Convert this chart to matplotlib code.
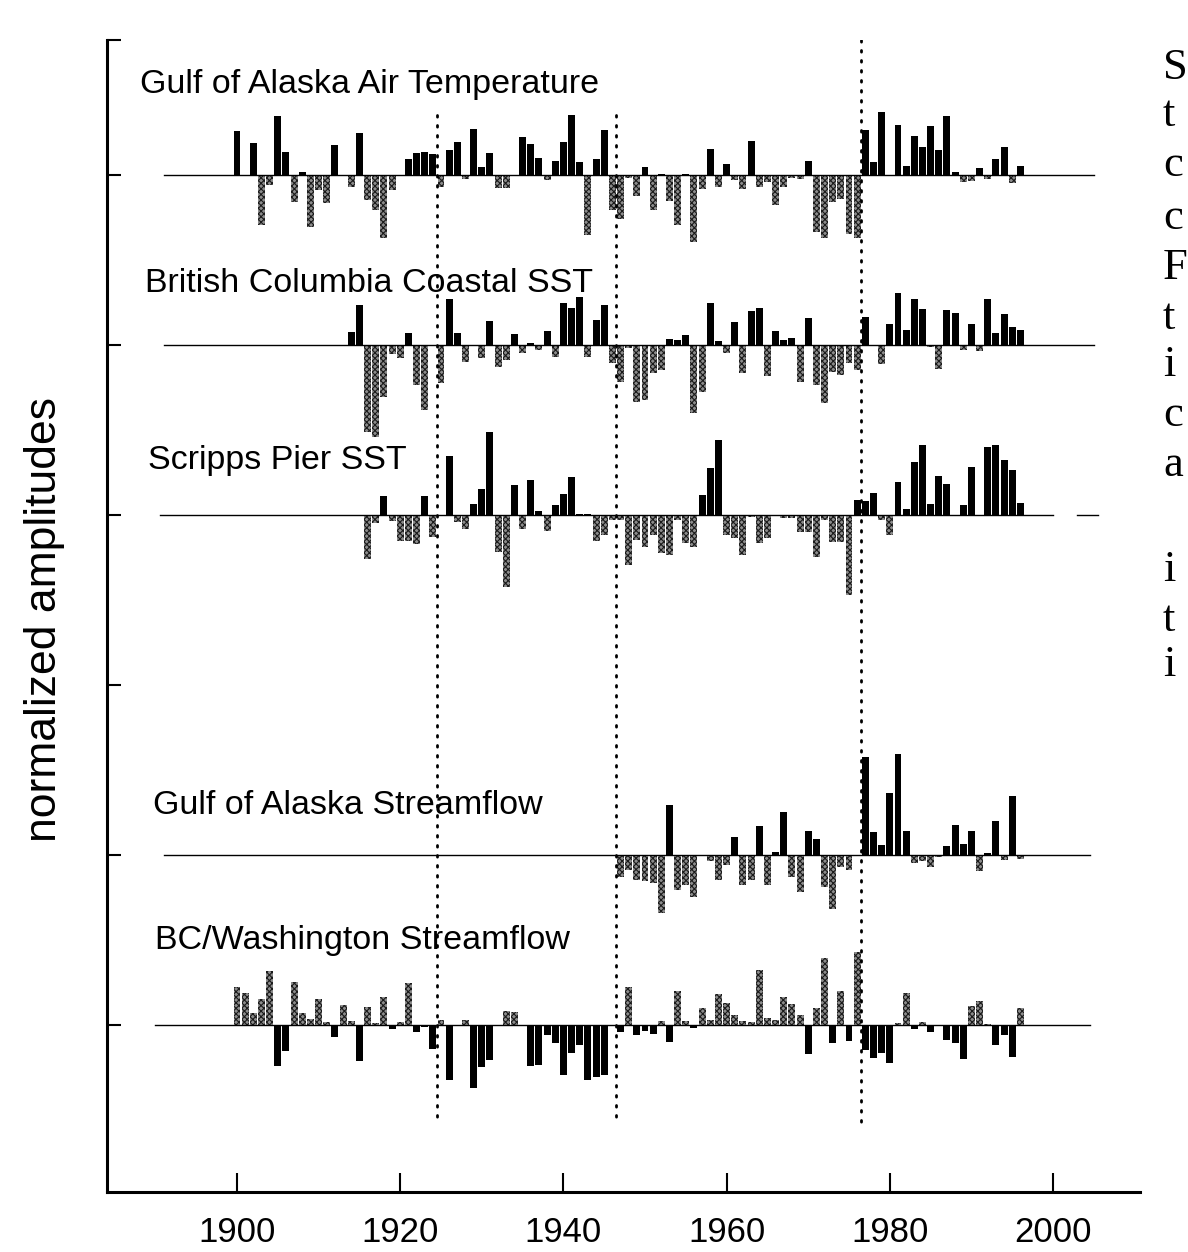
import numpy as np
import matplotlib
matplotlib.use("Agg")
import matplotlib.pyplot as plt

plt.rcParams['font.family'] = ['Liberation Sans', 'DejaVu Sans']
plt.rcParams['hatch.linewidth'] = 0.8

# anomalies, one bar per year (normalized amplitudes)
gak_air_years = np.arange(1900, 1997)
gak_air = [44, 0, 32, -50, -10, 59, 23, -27, 3, -52,
           -15, -28, 30, 0, -12, 42, -25, -35, -63, -15,
           -1, 16, 22, 23, 21, -12, 25, 33, -4, 46,
           8, 22, -13, -13, 0, 38, 31, 17, -5, 14,
           33, 60, 13, -60, 16, 45, -35, -44, -3, -21,
           8, -35, 1, -26, -50, 1, -67, -14, 26, -12,
           11, -5, -14, 34, -12, -7, -30, -12, -3, -4,
           14, -57, -63, -27, -24, -59, -63, 45, 13, 63,
           -1, 50, 9, 39, 28, 49, 25, 59, 3, -7,
           -6, 7, -4, 16, 28, -8, 9]

bc_sst_years = np.arange(1914, 1997)
bc_sst = [13, 40, -87, -92, -52, -9,
          -13, 12, -40, -65, 0, -38, 46, 12, -17, 0,
          -13, 24, -22, -15, 11, -8, 2, -5, 14, -12,
          42, 37, 48, -12, 25, 40, -18, -37, -3, -57,
          -55, -28, -25, 6, 5, 10, -68, -47, 42, 4,
          -8, 23, -28, 34, 37, -31, 14, 5, 7, -37,
          27, -40, -58, -27, -30, -18, -25, 28, -1, -19,
          21, 52, 15, 46, 36, -2, -24, 35, 32, -5,
          21, -6, 46, 12, 31, 18, 15]

scripps_years = np.arange(1916, 1997)
scripps = [-44, -8, 19, -6,
           -26, -26, -29, 19, -22, 0, 59, -7, -14, 11,
           26, 83, -37, -72, 30, -14, 35, 4, -16, 10,
           21, 38, 1, 1, -26, -20, -5, -5, -50, -25,
           -32, -20, -38, -40, -5, -28, -32, 20, 47, 75,
           -20, -23, -40, -2, -28, -23, 0, -3, -3, -17,
           -17, -42, -5, -27, -27, -80, 15, 14, 22, -5,
           -20, 33, 6, 53, 70, 11, 39, 31, 0, 10,
           48, 0, 68, 70, 55, 45, 12]

gak_flow_years = np.arange(1947, 1997)
gak_flow = [-22, -15, -25,
            -26, -28, -58, 50, -35, -30, -42, -1, -6, -25,
            -10, 18, -30, -25, 29, -30, 3, 43, -22, -37,
            24, 16, -32, -54, -12, -15, 0, 98, 23, 10,
            62, 101, 24, -8, -6, -12, -2, 9, 30, 11,
            24, -16, 2, 34, -5, 59, -4]

bcwa_flow_years = np.arange(1900, 1997)
bcwa_flow = [38, 32, 12, 26, 54, -41, -26, 43, 12, 6,
             26, 3, -12, 20, 4, -36, 18, 2, 28, -4,
             3, 42, -7, -2, -24, 5, -55, 0, 5, -63,
             -42, -35, 0, 14, 13, 0, -41, -40, -10, -18,
             -50, -28, -20, -55, -52, -50, 0, -7, 38, -10,
             -6, -9, 4, -17, 34, 4, -3, 17, 5, 31,
             22, 10, 4, 3, 55, 7, 5, 28, 21, 10,
             -29, 17, 67, -18, 34, -16, 73, -25, -33, -28,
             -38, 2, 32, -4, 3, -7, 0, -15, -18, -34,
             19, 24, 1, -20, -10, -32, 17]

titles = ["Gulf of Alaska Air Temperature", "British Columbia Coastal SST",
          "Scripps Pier SST", "Gulf of Alaska Streamflow",
          "BC/Washington Streamflow"]
shifts = [1924.5, 1946.5, 1976.5]

STEP = 170.0  # vertical distance between stacked records


def stipple(ax, x, h, bottom):
    ax.bar(x, h, width=0.85, bottom=bottom, color='0.55', edgecolor='0.1',
           hatch='xxxxxx', linewidth=0)


def solid(ax, x, h, bottom):
    ax.bar(x, h, width=0.85, bottom=bottom, color='black', linewidth=0)


def record(ax, years, vals, base, flip=False, line=(1891, 2005)):
    vals = np.asarray(vals, dtype=float)
    pos = vals > 0
    neg = vals < 0
    if flip:
        stipple(ax, years[pos], vals[pos], base)
        solid(ax, years[neg], vals[neg], base)
    else:
        solid(ax, years[pos], vals[pos], base)
        stipple(ax, years[neg], vals[neg], base)
    ax.plot(line, [base, base], color='black', lw=1.0, zorder=1)


W, H = 1188, 1252
fig = plt.figure(figsize=(W / 100, H / 100), dpi=100)
ax = fig.add_axes([107 / W, 1 - 1192 / H, 1033 / W, 1152 / H])

bases = [0, -STEP, -2 * STEP, -4 * STEP, -5 * STEP]
record(ax, gak_air_years, gak_air, bases[0])
record(ax, bc_sst_years, bc_sst, bases[1])
record(ax, scripps_years, scripps, bases[2], line=(1890.6, 2000))
ax.plot([2003, 2005.5], [bases[2], bases[2]], color='black', lw=1.0)
record(ax, gak_flow_years, gak_flow, bases[3], line=(1891, 2004.5))
record(ax, bcwa_flow_years, bcwa_flow, bases[4], flip=True, line=(1890, 2004.5))

# regime shift markers
tops = [60, 60, 135]
for s, t in zip(shifts, tops):
    ax.plot([s, s], [t, -950], color='black', lw=2.0,
            linestyle=(0, (0.6, 3.0)), dash_capstyle='round', zorder=3)

title_pos = [(1888.1, 90), (1888.7, -108), (1889.1, -285),
             (1889.7, -630), (1890.0, -765)]
for (tx, ty), t in zip(title_pos, titles):
    ax.text(tx, ty, t, fontsize=24.5, va='center', ha='left')

ax.set_xlim(1884.07, 2010.66)
ax.set_ylim(-1017, 135)
ax.set_xticks([1900, 1920, 1940, 1960, 1980, 2000])
ax.set_yticks([135, 0, -STEP, -2 * STEP, -3 * STEP, -4 * STEP, -5 * STEP])
ax.set_yticklabels([])
ax.tick_params(axis='x', direction='in', length=14, width=1.5,
               labelsize=25, pad=17)
ax.tick_params(axis='y', direction='in', length=10, width=1.5)
for side in ['top', 'right']:
    ax.spines[side].set_visible(False)
ax.spines['left'].set_linewidth(2.2)
ax.spines['bottom'].set_linewidth(2.2)

fig.text(45 / W, 1 - 620 / H, "normalized amplitudes", rotation=90,
         fontsize=32, ha='center', va='center')

# edge of the facing page text
letters = ["S", "t", "c", "c", "F", "t", "i", "c", "a", "i", "t", "i"]
ys = [68, 115, 165, 218, 268, 318, 365, 415, 465, 570, 620, 665]
for ch, y in zip(letters, ys):
    fig.text(1163 / W, 1 - y / H, ch, fontsize=32, family='Liberation Serif',
             ha='left', va='center')

fig.savefig("out.png", dpi=100)
